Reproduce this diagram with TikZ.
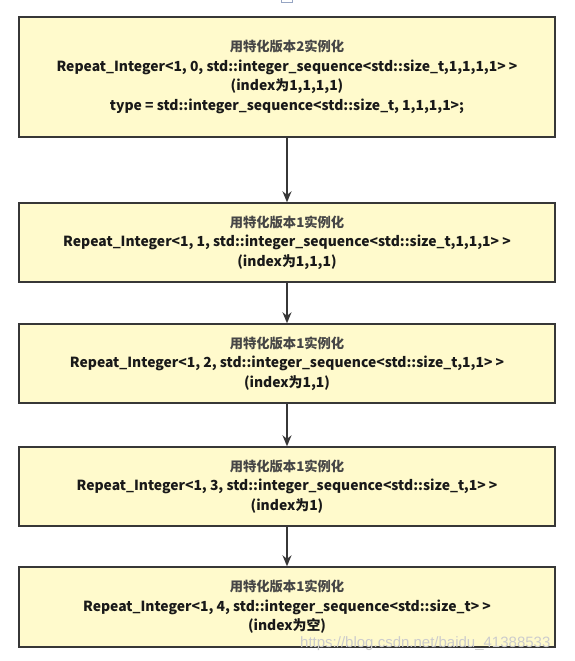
\documentclass[tikz,border=0pt]{standalone}
\usepackage{fontspec}
\setmainfont{Noto Sans CJK SC}
\newfontfamily\wmfont{Liberation Sans}
\usetikzlibrary{arrows.meta}
\definecolor{boxfill}{RGB}{255,250,204}
\definecolor{boxline}{RGB}{55,55,55}
\definecolor{titlecol}{RGB}{70,70,70}
\definecolor{iconcol}{RGB}{150,165,195}
\begin{document}
\begin{tikzpicture}[x=1pt,y=1pt,
  box/.style={draw=boxline, line width=1.4pt, fill=boxfill, minimum width=536pt,
    align=center, inner sep=0pt, text=black!90,
    font=\fontsize{13.9}{19.5}\selectfont\bfseries},
  arr/.style={-{Stealth[length=11pt,width=9pt]}, line width=1.5pt, draw=boxline}]
\useasboundingbox (0,0) rectangle (575,-661);
\fill[white] (0,0) rectangle (575,-661);
\draw[iconcol, line width=1pt] (281,4) rectangle (292,-3);
\newcommand{\ttlline}[1]{{\fontsize{13.3}{19.5}\selectfont\color{titlecol}#1}}
\node[box, minimum height=120pt] (b1) at (287,-77) {\ttlline{用特化版本2实例化}\\
Repeat\_Integer<1, 0, std::integer\_sequence<std::size\_t,1,1,1,1> >\\
(index为1,1,1,1)\\
type = std::integer\_sequence<std::size\_t, 1,1,1,1>;};
\node[box, minimum height=79pt] (b2) at (287,-242.5) {\ttlline{用特化版本1实例化}\\
Repeat\_Integer<1, 1, std::integer\_sequence<std::size\_t,1,1,1> >\\
(index为1,1,1)};
\node[box, minimum height=79pt] (b3) at (287,-363.5) {\ttlline{用特化版本1实例化}\\
Repeat\_Integer<1, 2, std::integer\_sequence<std::size\_t,1,1> >\\
(index为1,1)};
\node[box, minimum height=79pt] (b4) at (287,-486.5) {\ttlline{用特化版本1实例化}\\
Repeat\_Integer<1, 3, std::integer\_sequence<std::size\_t,1> >\\
(index为1)};
\node[box, minimum height=80pt] (b5) at (287,-607) {\ttlline{用特化版本1实例化}\\
Repeat\_Integer<1, 4, std::integer\_sequence<std::size\_t> >\\
(index为空)};
\draw[arr] (b1) -- (b2);
\draw[arr] (b2) -- (b3);
\draw[arr] (b3) -- (b4);
\draw[arr] (b4) -- (b5);
\node[anchor=base west, inner sep=0pt, font=\wmfont\fontsize{15}{15}\selectfont, text=gray!40] (wm) at (300,-647) {https://blog.csdn.net/baidu\_41388533};
\end{tikzpicture}
\end{document}
